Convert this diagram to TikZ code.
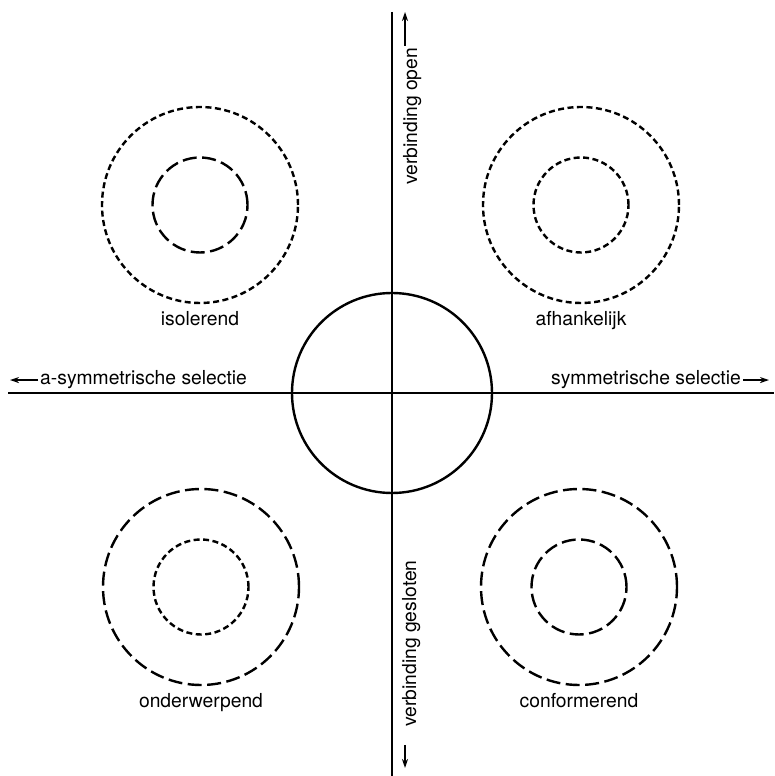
\documentclass[tikz,border=0pt]{standalone}
\usepackage{fontspec}
\setmainfont{TeX Gyre Heros}
\usepackage{tikz}
\usetikzlibrary{positioning,arrows.meta,calc}

\tikzset{
  axisline/.style={line width=2.8pt},
  ring/.style={circle, draw, line width=2.4pt, inner sep=0pt},
  shortdash/.style={dash pattern=on 6pt off 3.5pt},
  longdash/.style={dash pattern=on 14pt off 5.5pt},
  lbl/.style={inner sep=2pt},
  tip/.style={-{Stealth[length=9pt,width=6pt]}, line width=1.5pt}
}

\begin{document}
\begin{tikzpicture}[x=1pt, y=1pt, font=\fontsize{19.3}{23}\selectfont]
\useasboundingbox (0,0) rectangle (774,776);
% axes cross at (392,383); y counts up from the bottom edge
\coordinate (awest) at (8,383);
\coordinate (aeast) at (774,383);
\coordinate (anorth) at (392,764);
\coordinate (asouth) at (392,0);
\draw[axisline] (awest) -- (aeast);
\draw[axisline] (anorth) -- (asouth);
\node[ring, minimum size=200pt] (middle) at (392,383) {};
\foreach \nm/\cx/\cy/\out/\inn/\txt in {iso/200/571/shortdash/longdash/isolerend,
                                        afh/581/571/shortdash/shortdash/afhankelijk,
                                        ond/201/189/longdash/shortdash/onderwerpend,
                                        con/579/189/longdash/longdash/conformerend}{%
  \node[ring, \out, minimum size=196pt] (\nm-out) at (\cx,\cy) {};%
  \node[ring, \inn, minimum size=95pt] (\nm-in) at (\cx,\cy) {};%
  \node[lbl, anchor=base] (\nm-lbl) at (\cx,\cy-121) {\txt};}
% axis labels with their arrows
\node[lbl, anchor=base west] (asym) at (38,391) {a-symmetrische selectie};
\node[lbl, anchor=base east] (sym) at (743,391) {symmetrische selectie};
\node[lbl, anchor=base west, rotate=90] (open) at (417,589) {verbinding open};
\node[lbl, anchor=base west, rotate=90] (gesl) at (416,47) {verbinding gesloten};
\coordinate (asymtip) at (10,394);
\coordinate (symtip) at (769,394);
\coordinate (opentip) at (405,764);
\coordinate (gesltip) at (405,8);
\draw[tip] (asym.west) -- (asymtip |- asym.west);
\draw[tip] (sym.east) -- (symtip |- sym.east);
\draw[tip] (opentip |- open.east) -- (opentip);
\draw[tip] ($(gesltip |- gesl.west)+(0,-16)$) -- (gesltip);
\end{tikzpicture}
\end{document}
